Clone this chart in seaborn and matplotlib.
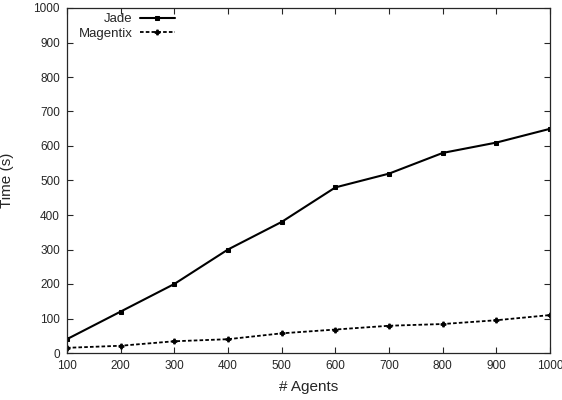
import pandas as pd
import numpy as np
import seaborn as sns
from matplotlib import pyplot as plt

agents = [100, 200, 300, 400, 500, 600, 700, 800, 900, 1000]
jade = [40, 120, 200, 300, 380, 480, 520, 580, 610, 650]
magentix = [15, 21, 34, 40, 57, 68, 79, 84, 95, 110]

sns.set_style('ticks')
plt.rcParams['font.family'] = ['Liberation Sans', 'DejaVu Sans']

fig = plt.figure(figsize=(5.62, 4.0), dpi=100)
ax = fig.add_axes([0.119, 0.1175, 0.86, 0.8625])

sns.lineplot(x=agents, y=jade, ax=ax, color='black', lw=1.5, marker='s', markersize=3.5,
             markeredgecolor='black', label='Jade')
sns.lineplot(x=agents, y=magentix, ax=ax, color='black', lw=1.3, ls=(0, (2, 1.2)), marker='P',
             markersize=3.5, markeredgecolor='black', label='Magentix')

ax.set_xlim(100, 1000)
ax.set_ylim(0, 1000)
ax.set_xticks(agents)
ax.set_yticks(range(0, 1001, 100))
ax.tick_params(direction='in', top=True, right=True, labelsize=8.5, length=4, width=0.8, pad=5)
for s in ax.spines.values():
    s.set_linewidth(0.9)
ax.set_xlabel('# Agents', fontsize=11, labelpad=6)
ax.set_ylabel('Time (s)', fontsize=11, labelpad=14)

leg = ax.legend(loc='upper left', bbox_to_anchor=(0.005, 1.012), frameon=False, markerfirst=False,
                fontsize=9.5, handlelength=2.6, handletextpad=0.6, labelspacing=0.15, borderpad=0.2)
for t in leg.get_texts():
    t.set_ha('right')
leg._legend_box.align = 'right'

fig.savefig('out.png', dpi=100)
